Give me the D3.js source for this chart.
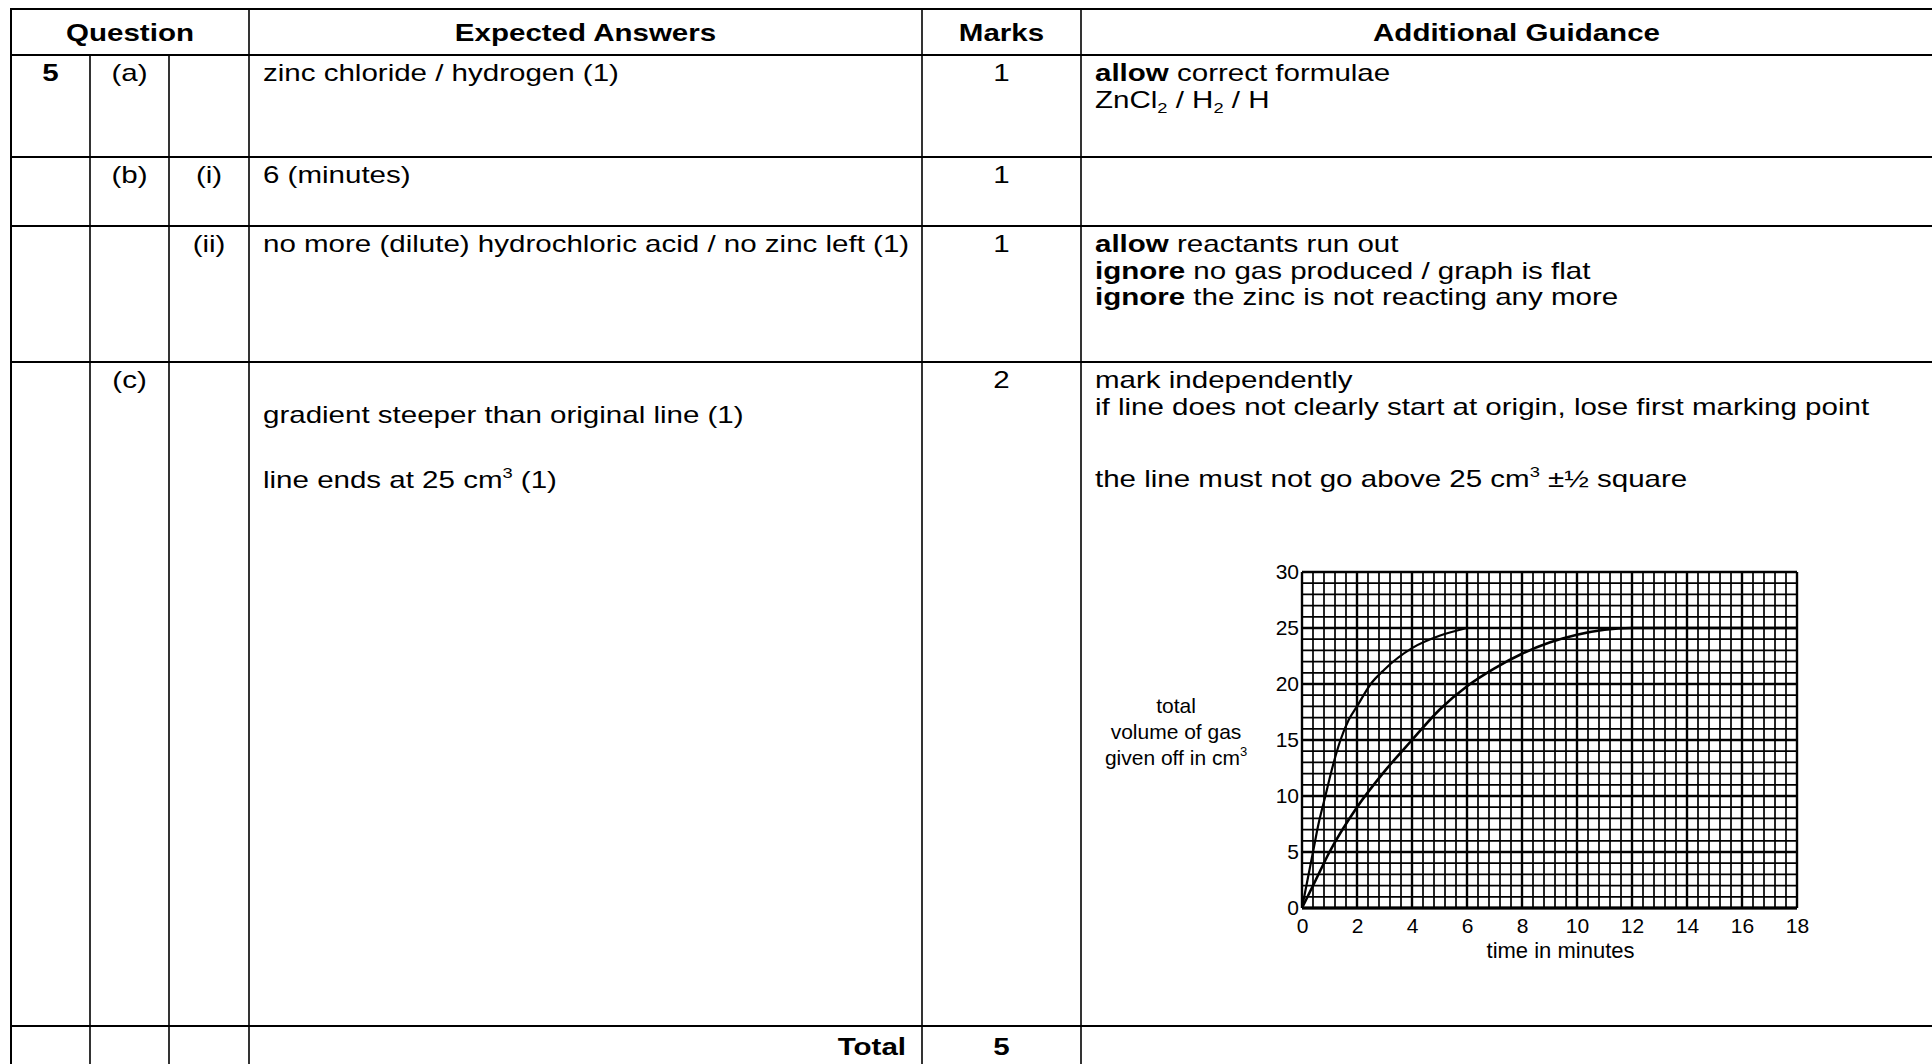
<!DOCTYPE html>
<html lang="en">
<head>
<meta charset="UTF-8">
<title>mark scheme - question 5</title>
<script src="https://cdn.jsdelivr.net/npm/d3@7"></script>
<style>
  body { margin: 0; background: #fff; }
  svg { display: block; }
  text { font-family: "Liberation Sans", Arial, sans-serif; fill: #000; }
</style>
</head>
<body>
<svg width="1932" height="1064"></svg>
<script>

    // ---- graph data ----
    // original reaction
    var slowTime = [0, 0.5, 1, 2, 3, 4, 5, 6, 7, 8, 9, 10, 11, 12, 18];
    var slowVol  = [0, 2.5, 5, 9, 12.2, 15, 17.7, 19.8, 21.4, 22.7, 23.7, 24.4, 24.85, 25, 25];
    // steeper line drawn in for (c)
    var fastTime = [0, 0.2, 0.4, 0.6, 0.85, 1.1, 1.4, 1.7, 2, 2.5, 3, 4, 5, 6];
    var fastVol  = [0, 2.5, 5, 7.5, 10, 12.5, 15, 16.8, 18, 20, 21.3, 23.2, 24.3, 25];

    var xTicks = [0, 2, 4, 6, 8, 10, 12, 14, 16, 18];
    var yTicks = [0, 5, 10, 15, 20, 25, 30];
    var yLabel = ["total", "volume of gas", ["given off in cm", "3"]];
    var xLabel = "time in minutes";

    // ---- table text ----
    var headers  = ["Question", "Expected Answers", "Marks", "Additional Guidance"];
    var qNumbers = ["5", "", "", ""];
    var qParts   = ["(a)", "(b)", "", "(c)"];
    var qSubs    = ["", "(i)", "(ii)", ""];
    var marks    = ["1", "1", "1", "2"];
    var totalLabel = "Total";
    var totalMarks = "5";

    // each line is a list of pieces: t = text, b = bold, sub / sup
    var answers = [
        [[{t: "zinc chloride / hydrogen (1)"}]],
        [[{t: "6 (minutes)"}]],
        [[{t: "no more (dilute) hydrochloric acid / no zinc left (1)"}]],
        [[{t: "gradient steeper than original line (1)"}],
         [{t: "line ends at 25 cm"}, {t: "3", sup: true}, {t: " (1)"}]]
    ];
    var guidance = [
        [[{t: "allow", b: true}, {t: " correct formulae"}],
         [{t: "ZnCl"}, {t: "2", sub: true}, {t: " / H"}, {t: "2", sub: true}, {t: " / H"}]],
        [],
        [[{t: "allow", b: true}, {t: " reactants run out"}],
         [{t: "ignore", b: true}, {t: " no gas produced / graph is flat"}],
         [{t: "ignore", b: true}, {t: " the zinc is not reacting any more"}]],
        [[{t: "mark independently"}],
         [{t: "if line does not clearly start at origin, lose first marking point"}],
         [{t: "the line must not go above 25 cm"}, {t: "3", sup: true}, {t: " \u00b1\u00bd square"}]]
    ];

    // ---- layout ----
    var colX = [11, 90, 169, 249, 922, 1081, 1952];   // last edge runs off the page
    var rowY = [9, 55, 157, 226, 362, 1026, 1068];
    var firstBase = 26;       // baseline of first line below row top
    var lineGap = 26.7;
    // row (c) has its lines spread out
    var answerOffsets   = [[0], [0], [0], [35, 100]];
    var guidanceOffsets = [[0, lineGap], [], [0, lineGap, 2 * lineGap], [0, lineGap, 99]];
    var SX = 1.23;            // the page text is a little wide
    var FS = 24;

    var svg = d3.select("svg");

    function richText(parent, x, y, anchor, pieces, size, sx, bold) {
        var t = parent.append("text")
            .attr("transform", "translate(" + x + "," + y + ") scale(" + sx + ",1)")
            .attr("text-anchor", anchor)
            .style("font-size", size + "px")
            .style("font-weight", bold ? "bold" : null);
        var shift = 0;
        pieces.forEach(function(p) {
            var target = p.sub ? size * 0.2 : p.sup ? -size * 0.42 : 0;
            t.append("tspan")
                .attr("dy", target - shift)
                .style("font-weight", p.b ? "bold" : null)
                .style("font-size", (p.sub || p.sup) ? (size * 0.62) + "px" : null)
                .text(p.t);
            shift = target;
        });
        return t;
    }

    // ---- table lines ----
    var grid = svg.append("g").attr("stroke", "#000").attr("fill", "none");
    grid.selectAll("line.h")
        .data(rowY)
        .enter().append("line")
        .attr("x1", colX[0] - 1).attr("x2", colX[colX.length - 1])
        .attr("y1", function(d) { return d; })
        .attr("y2", function(d) { return d; })
        .attr("stroke-width", 2.2);
    grid.selectAll("line.v")
        .data(colX)
        .enter().append("line")
        .attr("x1", function(d) { return d; })
        .attr("x2", function(d) { return d; })
        .attr("y1", function(d, i) { return (i == 1 || i == 2) ? rowY[1] : rowY[0]; })
        .attr("y2", rowY[rowY.length - 1])
        .attr("stroke-width", function(d, i) { return i == 0 ? 2 : 1.6; });

    // ---- header ----
    var headCenters = [(colX[0] + colX[3]) / 2, (colX[3] + colX[4]) / 2,
                       (colX[4] + colX[5]) / 2, (colX[5] + colX[6]) / 2];
    headers.forEach(function(h, i) {
        richText(svg, headCenters[i], 41, "middle", [{t: h}], FS, SX, true);
    });

    // ---- body rows ----
    for (var r = 0; r < 4; r++) {
        var rowTop = rowY[r + 1] + firstBase;
        if (qNumbers[r]) richText(svg, (colX[0] + colX[1]) / 2, rowTop, "middle", [{t: qNumbers[r]}], FS, SX, true);
        if (qParts[r])   richText(svg, (colX[1] + colX[2]) / 2, rowTop, "middle", [{t: qParts[r]}], FS, SX);
        if (qSubs[r])    richText(svg, (colX[2] + colX[3]) / 2, rowTop, "middle", [{t: qSubs[r]}], FS, SX);
        richText(svg, (colX[4] + colX[5]) / 2, rowTop, "middle", [{t: marks[r]}], FS, SX);
        answers[r].forEach(function(line, k) {
            richText(svg, colX[3] + 14, rowTop + answerOffsets[r][k], "start", line, FS, SX);
        });
        guidance[r].forEach(function(line, k) {
            richText(svg, colX[5] + 14, rowTop + guidanceOffsets[r][k], "start", line, FS, SX);
        });
    }
    richText(svg, colX[4] - 16, rowY[5] + 29, "end", [{t: totalLabel}], FS, SX, true);
    richText(svg, (colX[4] + colX[5]) / 2, rowY[5] + 29, "middle", [{t: totalMarks}], FS, SX, true);

    // ---- graph ----
    var x = d3.scaleLinear().domain([0, 18]).range([1302, 1797]);
    var y = d3.scaleLinear().domain([0, 30]).range([908, 572]);
    var g = svg.append("g");

    var vLines = d3.range(0, 45 + 1).map(function(i) { return i * 0.4; });
    var hLines = d3.range(0, 30 + 1);
    g.append("g").attr("stroke", "#000")
        .selectAll("line")
        .data(vLines)
        .enter().append("line")
        .attr("x1", function(d) { return x(d); })
        .attr("x2", function(d) { return x(d); })
        .attr("y1", y(0)).attr("y2", y(30))
        .attr("stroke-width", function(d, i) { return i % 5 == 0 ? 2.4 : 1.7; });
    g.append("g").attr("stroke", "#000")
        .selectAll("line")
        .data(hLines)
        .enter().append("line")
        .attr("y1", function(d) { return y(d); })
        .attr("y2", function(d) { return y(d); })
        .attr("x1", x(0)).attr("x2", x(18))
        .attr("stroke-width", function(d) { return d % 5 == 0 ? 2.4 : 1.7; });
    g.append("line")
        .attr("x1", x(0)).attr("x2", x(18))
        .attr("y1", y(0)).attr("y2", y(0))
        .attr("stroke", "#000").attr("stroke-width", 2.8);

    var line = d3.line()
        .x(function(d) { return x(d[0]); })
        .y(function(d) { return y(d[1]); })
        .curve(d3.curveMonotoneX);
    g.append("path")
        .attr("d", line(d3.zip(slowTime, slowVol)))
        .attr("fill", "none").attr("stroke", "#000").attr("stroke-width", 2.6);
    g.append("path")
        .attr("d", line(d3.zip(fastTime, fastVol)))
        .attr("fill", "none").attr("stroke", "#000").attr("stroke-width", 2.2);

    var yAxis = g.append("g")
        .attr("transform", "translate(" + x(0) + ",0)")
        .call(d3.axisLeft(y).tickValues(yTicks).tickSize(0).tickPadding(3));
    var xAxis = g.append("g")
        .attr("transform", "translate(0," + y(0) + ")")
        .call(d3.axisBottom(x).tickValues(xTicks).tickSize(0).tickPadding(10));
    [yAxis, xAxis].forEach(function(a) {
        a.attr("font-family", null).attr("font-size", null);
        a.select(".domain").remove();
        a.selectAll("text").style("font-size", "21px");
    });

    yLabel.forEach(function(l, i) {
        var pieces = typeof l == "string" ? [{t: l}] : [{t: l[0]}, {t: l[1], sup: true}];
        richText(g, 1176, 713 + i * 26, "middle", pieces, 21, 1);
    });
    richText(g, x(9.4), 958, "middle", [{t: xLabel}], 22, 1);

</script>
</body>
</html>
